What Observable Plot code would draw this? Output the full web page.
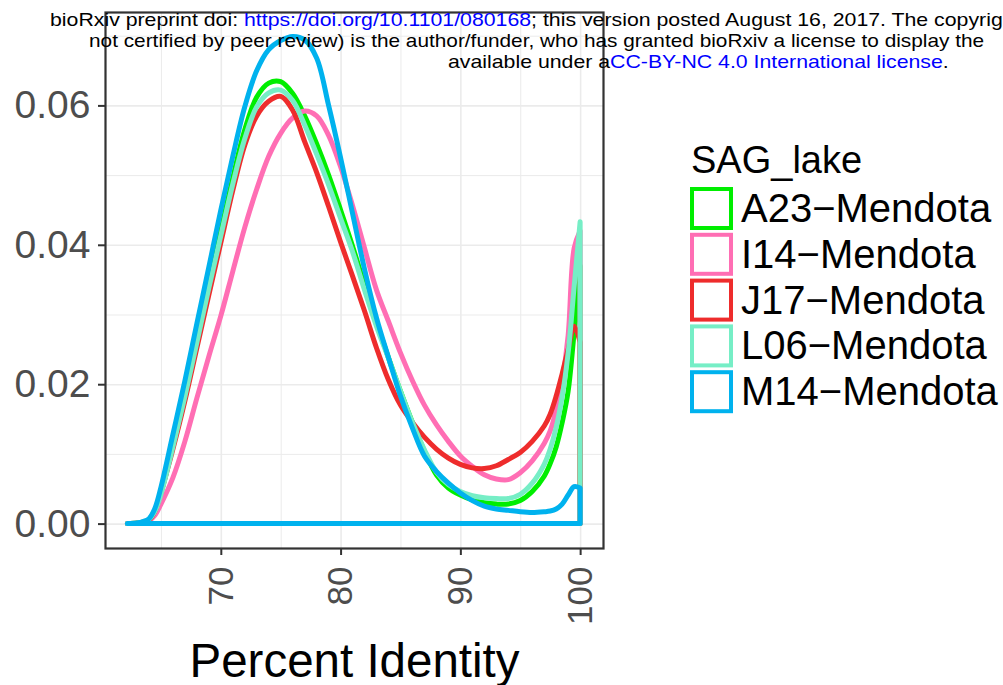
<!DOCTYPE html>
<html><head><meta charset="utf-8">
<script src="https://cdn.jsdelivr.net/npm/d3@7"></script>
<script src="https://cdn.jsdelivr.net/npm/@observablehq/plot@0.6"></script>
<style>
body{margin:0;background:#fff;}
#wrap{position:relative;width:1003px;height:685px;overflow:hidden;font-family:"Liberation Sans",Arial,Helvetica,sans-serif;}
#plot{position:absolute;left:0;top:0;}
#legend{position:absolute;left:0;top:0;pointer-events:none;}
.hdr{position:absolute;white-space:nowrap;font-size:19px;color:#000;transform-origin:0 0;line-height:1;z-index:5;}
.hdr a{color:#0000ff;text-decoration:none;}
</style></head><body><div id="wrap"><div id="plot"></div></div>
<script>
// ---- data ----
const percentIdentity = [62.2, 63, 63.5, 64, 64.5, 65, 66, 67, 68, 69, 70, 71, 72, 73, 74, 75, 76, 77, 78, 79, 80, 81, 82, 83, 84, 85, 86, 87, 88, 89, 90, 91, 92, 93, 94, 95, 96, 97, 97.5, 98, 98.5, 99, 99.5, 100];
const densityA23 = [0, .0001, .0002, .0006, .0019, .0044, .0112, .0185, .0264, .0343,
  .0420, .0496, .0565, .0612, .0632, .0634, .0617, .0585, .0545, .0500,
  .0450, .0398, .0342, .0288, .0238, .0190, .0145, .0104, .0070, .0051,
  .0041, .0034, .0030, .0028, .0028, .0033, .0046,
  .0068, .0086, .0110, .0145, .0190, .0275, .0370];
const densityI14 = [0, .00002, .0001, .0004, .0012, .0028, .0066, .0118, .0180, .0240,
  .0298, .0362, .0425, .0480, .0527, .0560, .0582, .0592, .0585, .0557,
  .0512, .0456, .0395, .0335, .0290, .0245, .0205, .0170, .0142, .0118,
  .0097, .0082, .0070, .0064, .0063, .0073, .0090,
  .0115, .0133, .0163, .0205, .0270, .0395, .0420];
const densityJ17 = [0, .0001, .0002, .0005, .0018, .0045, .0107, .0176, .0252, .0328,
  .0403, .0478, .0543, .0585, .0606, .0613, .0593, .0548, .0504, .0455,
  .0404, .0355, .0305, .0252, .0206, .0170, .0145, .0124, .0107, .0094,
  .0085, .0080, .0079, .0083, .0092, .0102, .0118,
  .0140, .0157, .0183, .0215, .0250, .0283, .0260];
const densityL06 = [0, .0001, .0002, .0006, .0018, .0042, .0110, .0182, .0260, .0338,
  .0413, .0487, .0552, .0598, .0618, .0622, .0607, .0572, .0530, .0486,
  .0438, .0390, .0335, .0283, .0237, .0190, .0145, .0106, .0074, .0056,
  .0046, .0040, .0037, .0036, .0036, .0042, .0058,
  .0085, .0107, .0138, .0182, .0245, .0340, .0433];
const densityM14 = [0, .0001, .0003, .0007, .0022, .0052, .0128, .0205, .0287, .0368,
  .0450, .0527, .0598, .0650, .0680, .0693, .0699, .0694, .0668, .0600,
  .0525, .0445, .0365, .0295, .0238, .0183, .0137, .0097, .0075, .0058,
  .0044, .0033, .0025, .0021, .0019, .0017, .0016,
  .0017, .0018, .0021, .0028, .0041, .0053, .0051];

const seriesNames = ["A23\u2212Mendota", "I14\u2212Mendota", "J17\u2212Mendota", "L06\u2212Mendota", "M14\u2212Mendota"];
const seriesColors = ["#00EE00", "#FF6EB4", "#EE2C2C", "#76EEC6", "#00B2EE"];
const seriesValues = [densityA23, densityI14, densityJ17, densityL06, densityM14];
const legendTitle = "SAG_lake";
const xLabel = "Percent Identity";
const xTicks = [70, 80, 90, 100];
const xMinor = [65, 75, 85, 95];
const yTicks = [0, 0.02, 0.04, 0.06];
const yMinor = [0.01, 0.03, 0.05, 0.07];

// ---- build tables ----
const tables = seriesValues.map((vals, i) => percentIdentity.map((x, j) => ({x, y: vals[j], s: seriesNames[i]})));

const W = 1003, H = 685;
const grid = "#EBEBEB";
const plot = Plot.plot({
  width: W, height: H,
  marginLeft: 105, marginRight: 400, marginTop: 12, marginBottom: 137,
  x: {domain: [60.33, 101.91]},
  y: {domain: [-0.0035, 0.0734]},
  style: {fontFamily: "'Liberation Sans', Arial, sans-serif", background: "white", overflow: "visible"},
  marks: [
    Plot.ruleX(xMinor, {stroke: grid, strokeWidth: 1}),
    Plot.ruleY(yMinor, {stroke: grid, strokeWidth: 1}),
    Plot.ruleX(xTicks, {stroke: grid, strokeWidth: 1.6}),
    Plot.ruleY(yTicks, {stroke: grid, strokeWidth: 1.6}),
    ...tables.map((t, i) => Plot.areaY(t, {x: "x", y: "y", fill: "none", stroke: seriesColors[i], strokeWidth: 5, strokeLinejoin: "round", curve: "catmull-rom"})),
    Plot.frame({stroke: "#333333", strokeWidth: 2.2}),
    Plot.axisY(yTicks, {tickFormat: d3.format(".2f"), fontSize: 39, tickSize: 7, tickPadding: 8, stroke: "#333333", fill: "#4D4D4D", strokeWidth: 2, label: null}),
    Plot.axisX(xTicks, {tickRotate: -90, fontSize: 35, tickSize: 7, tickPadding: 11, stroke: "#333333", fill: "#4D4D4D", strokeWidth: 2, label: null}),
    Plot.text([xLabel], {frameAnchor: "bottom", dy: 128, fontSize: 47.5, fill: "#000", lineAnchor: "bottom"})
  ]
});
document.getElementById("plot").appendChild(plot);

// ---- legend (ggplot-style outlined keys) ----
const ns = "http://www.w3.org/2000/svg";
const lg = document.createElementNS(ns, "svg");
lg.setAttribute("id", "legend");
lg.setAttribute("width", W); lg.setAttribute("height", H);
const mk = (tag, attrs, txt) => { const e = document.createElementNS(ns, tag); for (const k in attrs) e.setAttribute(k, attrs[k]); if (txt != null) e.textContent = txt; lg.appendChild(e); return e; };
mk("text", {x: 691, y: 173, "font-size": 38, "font-family": "'Liberation Sans', Arial, sans-serif", fill: "#000"}, legendTitle);
seriesNames.forEach((n, i) => {
  const top = 187 + i * 45.8;
  mk("rect", {x: 692, y: top + 2, width: 39, height: 39, fill: "#fff", stroke: seriesColors[i], "stroke-width": 4});
  mk("text", {x: 741, y: top + 35, "font-size": 40, "font-family": "'Liberation Sans', Arial, sans-serif", fill: "#000"}, n);
});
document.getElementById("wrap").appendChild(lg);

// ---- preprint header overlay (as visible in the reference, cut at the page edge) ----
const header = [
  {left: 50, top: 10, sx: 1.12, html: 'bioRxiv preprint doi: <a>https://doi.org/10.1101/080168</a>; this version posted August 16, 2017. The copyrig'},
  {left: 89, top: 31, sx: 1.095, html: 'not certified by peer review) is the author/funder, who has granted bioRxiv a license to display the'},
  {left: 448, top: 52, sx: 1.12, html: 'available under a<a>CC-BY-NC 4.0 International license</a>.'}
];
header.forEach(h => {
  const d = document.createElement("div");
  d.className = "hdr"; d.style.left = h.left + "px"; d.style.top = h.top + "px";
  d.style.transform = "scaleX(" + h.sx + ")"; d.innerHTML = h.html;
  document.getElementById("wrap").appendChild(d);
});
</script>
</body></html>
